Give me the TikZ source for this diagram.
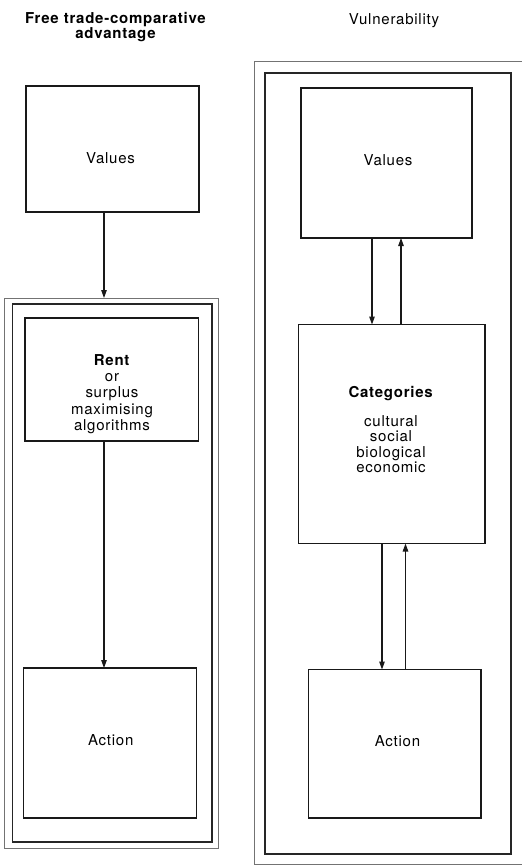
\documentclass[tikz,border=0pt]{standalone}
\usepackage{fontspec}
\setmainfont{TeX Gyre Heros}[LetterSpace=5]
\usetikzlibrary{arrows.meta}
\begin{document}
\begin{tikzpicture}[x=1pt,y=-1pt,
  box/.style={draw=black!90, line width=1.4pt, inner sep=0pt, outer sep=0pt},
  frameout/.style={draw=black!55, line width=1pt, inner sep=0pt, outer sep=0pt},
  framein/.style={draw=black!85, line width=1.3pt, inner sep=0pt, outer sep=0pt},
  txt/.style={font=\fontsize{15}{16}\selectfont, align=center, inner sep=0pt},
  arr/.style={draw=black!90, line width=1.1pt, -{Triangle[length=8pt,width=5.5pt]}}]
\useasboundingbox (0,0) rectangle (522,865);

% ---------- left column ----------
\node[txt, font=\fontsize{15}{15.5}\selectfont\bfseries] (titleL) at (115.5,27) {Free trade-comparative\\advantage};
\node[box, minimum width=173, minimum height=126] (vL) at (112.5,149) {};
\node[frameout, minimum width=214, minimum height=550] (oL) at (111,573) {};
\node[framein, minimum width=199.5, minimum height=538] (iL) at (112.25,573) {};
\node[box, minimum width=173.5, minimum height=123] (rL) at (111.75,379.5) {};
\node[box, minimum width=173, minimum height=150] (aL) at (110,743) {};

\node[txt, anchor=base] (vLt) at (110.5,163) {Values};
\node[txt, font=\fontsize{15}{16.2}\selectfont] (rLt) at (112,394) {\textbf{Rent}\\or\\surplus\\maximising\\algorithms};
\node[txt, anchor=base] (aLt) at (110.7,745) {Action};

\coordinate (xl) at (104,0);
\draw[arr] (vL.south -| xl) -- (oL.north -| xl);
\draw[arr] (rL.south -| xl) -- (aL.north -| xl);

% ---------- right column ----------
\node[txt, anchor=base] (titleR) at (394,24) {Vulnerability};
\node[frameout, minimum width=271, minimum height=803] (oR) at (389.5,462.5) {};
\node[framein, minimum width=246, minimum height=781] (mR) at (388,463.5) {};
\node[box, minimum width=171, minimum height=150] (vR) at (386.5,163) {};
\node[box, minimum width=186.5, minimum height=219] (cR) at (391.75,434) {};
\node[box, minimum width=172.5, minimum height=148.5] (aR) at (394.75,743.75) {};

\node[txt, anchor=base] (vRt) at (388,165) {Values};
\node[txt, font=\fontsize{15}{15.5}\selectfont] (cRt) at (391,429.5) {\textbf{Categories}\\[13.5pt]cultural\\social\\biological\\economic};
\node[txt, anchor=base] (aRt) at (397.5,746) {Action};

\coordinate (x1) at (372,0);
\coordinate (x2) at (401,0);
\coordinate (x3) at (382,0);
\coordinate (x4) at (405.5,0);
\draw[arr] (vR.south -| x1) -- (cR.north -| x1);
\draw[arr] (cR.north -| x2) -- (vR.south -| x2);
\draw[arr] (cR.south -| x3) -- (aR.north -| x3);
\draw[arr] (aR.north -| x4) -- (cR.south -| x4);
\end{tikzpicture}
\end{document}
